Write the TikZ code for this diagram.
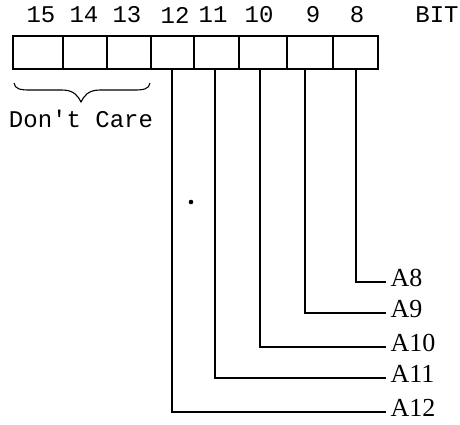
\documentclass[tikz,border=0pt]{standalone}
\usepackage{fontspec}
\setmonofont{Liberation Mono}
\newfontfamily\labelfont{Liberation Serif}
\begin{document}
\begin{tikzpicture}[x=1pt,y=-1pt,
  line width=1.2pt,
  cell/.style={draw, rectangle, minimum height=33pt, inner sep=0pt, line width=1.2pt},
  bitnum/.style={font=\ttfamily\fontsize{24}{24}\selectfont, inner sep=0pt},
  addr/.style={font=\labelfont\fontsize{26}{26}\selectfont, anchor=west, inner xsep=4pt, inner ysep=0pt},
  wire/.style={line width=1.2pt}]
\useasboundingbox (0,0) rectangle (460,424);
% register cells
\node[cell, minimum width=50pt] (c15) at (38,52.5) {};
\node[cell, minimum width=44pt] (c14) at (85,52.5) {};
\node[cell, minimum width=44pt] (c13) at (129,52.5) {};
\node[cell, minimum width=43pt] (c12) at (172.5,52.5) {};
\node[cell, minimum width=45pt] (c11) at (216.5,52.5) {};
\node[cell, minimum width=48pt] (c10) at (263,52.5) {};
\node[cell, minimum width=46pt] (c9) at (310,52.5) {};
\node[cell, minimum width=45pt] (c8) at (355.5,52.5) {};
% bit numbers
\node[bitnum] (n15) at (41,15) {15};
\node[bitnum] (n14) at (84,15) {14};
\node[bitnum] (n13) at (127,15) {13};
\node[bitnum] (n12) at (175,15) {12};
\node[bitnum] (n11) at (213,15) {11};
\node[bitnum] (n10) at (259,15) {10};
\node[bitnum] (n9) at (313,15) {9};
\node[bitnum] (n8) at (357,15) {8};
\node[bitnum] (bit) at (437,15) {BIT};
% brace
\draw[line width=1.1pt] (14,83) .. controls (15,89) and (20,90) .. (30,90)
  -- (62,90) .. controls (74,90) and (78,96) .. (81,102)
  .. controls (84,96) and (88,90) .. (100,90) -- (134,90)
  .. controls (144,90) and (149,89) .. (150,83);
\node[bitnum] (dc) at (81,119) {Don't Care};
% address labels
\node[addr] (a8) at (386,278) {A8};
\node[addr] (a9) at (386,309) {A9};
\node[addr] (a10) at (386,343) {A10};
\node[addr] (a11) at (386,374) {A11};
\node[addr] (a12) at (386,408) {A12};
% wires
\draw[wire] ([xshift=0.5pt]c8.south) |- ([yshift=-4pt]a8.west);
\draw[wire] ([xshift=-5pt]c9.south) |- ([yshift=-4pt]a9.west);
\draw[wire] ([xshift=-3pt]c10.south) |- ([yshift=-4pt]a10.west);
\draw[wire] ([xshift=-1.5pt]c11.south) |- ([yshift=-4pt]a11.west);
\draw[wire] ([xshift=-0.5pt]c12.south) |- ([yshift=-4pt]a12.west);
% speck
\fill (191,202) circle (2.3);
\end{tikzpicture}
\end{document}
